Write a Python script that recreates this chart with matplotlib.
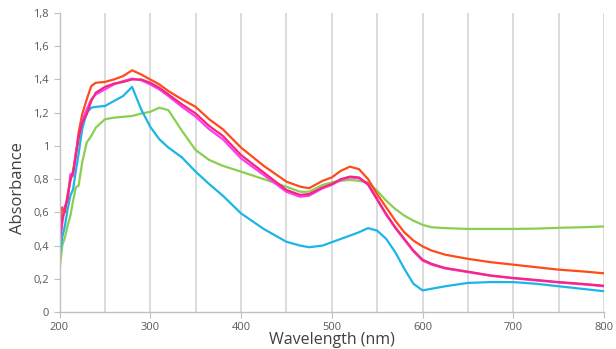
import matplotlib
matplotlib.use("Agg")
import matplotlib.pyplot as plt
from matplotlib.ticker import FuncFormatter, MultipleLocator

wavelength = [200, 203, 206, 209, 212, 215, 218, 221, 225, 230, 235, 240, 250, 260,
              270, 280, 290, 300, 310, 320, 335, 350, 365, 380, 400, 425, 450, 465,
              475, 490, 500, 510, 520, 530, 540, 550, 560, 570, 580, 590, 600, 610,
              625, 650, 675, 700, 725, 750, 775, 800]

red = [0.51, 0.63, 0.60, 0.71, 0.79, 0.85, 0.95, 1.08, 1.19, 1.28, 1.36, 1.38, 1.385, 1.40,
       1.42, 1.455, 1.43, 1.40, 1.37, 1.33, 1.28, 1.235, 1.16, 1.10, 0.99, 0.88, 0.785, 0.755,
       0.745, 0.79, 0.81, 0.85, 0.875, 0.86, 0.80, 0.71, 0.63, 0.55, 0.48, 0.43, 0.395, 0.37,
       0.345, 0.32, 0.30, 0.285, 0.27, 0.255, 0.245, 0.233]

pink = [0.42, 0.56, 0.62, 0.69, 0.80, 0.84, 0.94, 1.05, 1.14, 1.19, 1.27, 1.32, 1.355, 1.375,
        1.385, 1.40, 1.40, 1.38, 1.35, 1.31, 1.25, 1.195, 1.12, 1.06, 0.945, 0.84, 0.735, 0.705,
        0.71, 0.75, 0.77, 0.80, 0.815, 0.81, 0.77, 0.68, 0.59, 0.51, 0.44, 0.37, 0.315, 0.29,
        0.265, 0.243, 0.22, 0.205, 0.193, 0.18, 0.17, 0.158]

magenta = [0.40, 0.53, 0.64, 0.67, 0.83, 0.82, 0.96, 1.04, 1.15, 1.22, 1.28, 1.31, 1.34, 1.37,
           1.39, 1.405, 1.395, 1.37, 1.34, 1.30, 1.235, 1.176, 1.10, 1.04, 0.925, 0.825, 0.724, 0.694,
           0.70, 0.745, 0.765, 0.795, 0.81, 0.805, 0.765, 0.675, 0.585, 0.505, 0.435, 0.365, 0.31, 0.285,
           0.262, 0.24, 0.218, 0.203, 0.19, 0.178, 0.167, 0.155]

blue = [0.33, 0.45, 0.52, 0.62, 0.70, 0.74, 0.85, 0.95, 1.10, 1.20, 1.23, 1.235, 1.24, 1.27,
        1.30, 1.355, 1.22, 1.115, 1.04, 0.99, 0.93, 0.845, 0.77, 0.70, 0.594, 0.50, 0.423, 0.40,
        0.39, 0.40, 0.42, 0.44, 0.46, 0.48, 0.505, 0.49, 0.44, 0.36, 0.26, 0.17, 0.13, 0.14,
        0.155, 0.175, 0.18, 0.18, 0.17, 0.155, 0.14, 0.125]

green = [0.25, 0.40, 0.45, 0.52, 0.58, 0.67, 0.75, 0.76, 0.90, 1.02, 1.06, 1.11, 1.16, 1.17,
         1.175, 1.18, 1.195, 1.205, 1.23, 1.215, 1.09, 0.975, 0.915, 0.88, 0.845, 0.80, 0.754, 0.724,
         0.724, 0.765, 0.78, 0.79, 0.795, 0.79, 0.78, 0.73, 0.67, 0.62, 0.58, 0.55, 0.525, 0.51,
         0.505, 0.50, 0.50, 0.50, 0.502, 0.507, 0.51, 0.515]

series = [
    (green, "#88CF52"),
    (blue, "#1BB5E8"),
    (red, "#FF4A1A"),
    (magenta, "#FF3CF5"),
    (pink, "#F2287F"),
]

x_ticks = [200, 300, 400, 500, 600, 700, 800]
y_ticks = [0, 0.2, 0.4, 0.6, 0.8, 1.0, 1.2, 1.4, 1.6, 1.8]

plt.rcParams['font.family'] = ['Open Sans', 'DejaVu Sans']

fig = plt.figure(figsize=(6.16, 3.49), dpi=100)
ax = fig.add_axes([59.5 / 616, 1 - 312 / 349, (604 - 59.5) / 616, (312 - 13) / 349])

for vals, col in series:
    ax.plot(wavelength, vals, color=col, lw=1.6, solid_joinstyle='round')

ax.set_xlim(200, 800)
ax.set_ylim(0, 1.8)
ax.set_xticks(x_ticks)
ax.set_yticks(y_ticks)
ax.xaxis.set_minor_locator(MultipleLocator(50))
ax.grid(axis='x', which='both', color='#D6D6D6', lw=1.2)
ax.set_axisbelow(True)

def fmt(v, pos):
    s = ('%.1f' % v).rstrip('0').rstrip('.')
    return s.replace('.', ',')

ax.yaxis.set_major_formatter(FuncFormatter(fmt))

for s in ['top', 'right']:
    ax.spines[s].set_visible(False)
for s in ['left', 'bottom']:
    ax.spines[s].set_color('#BFBFBF')
    ax.spines[s].set_linewidth(1.0)

ax.tick_params(axis='both', which='major', labelsize=8, labelcolor='#595959',
               color='#BFBFBF', length=4)
ax.tick_params(axis='x', which='minor', length=0)
ax.tick_params(axis='x', pad=3)

fig.text(332 / 616, 1 - 344 / 349, "Wavelength (nm)", ha='center', va='baseline',
         fontsize=11.5, color='#404040')
fig.text(18 / 616, 1 - 188 / 349, "Absorbance", ha='center', va='center',
         rotation=90, fontsize=12, color='#404040')

fig.savefig("out.png", dpi=100)
